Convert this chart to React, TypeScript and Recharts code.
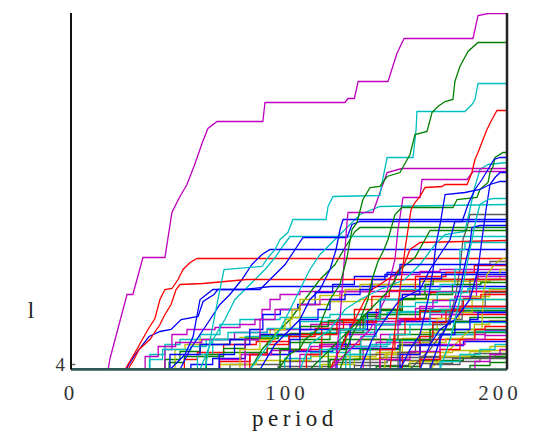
import { Line, LineChart, ReferenceLine, XAxis, YAxis } from "recharts";

type Pt = [number, number];

const BASE = 3.5;
const X_TICKS = [0, 100, 200];
const Y_TICKS = [4];

const B = "#0000ff";
const G = "#008000";
const R = "#ff0000";
const C = "#00bfbf";
const M = "#bf00bf";
const Y = "#bfbf00";
const K = "#595959";

// early / low runs
const blueE40: Pt[] = [[25.2, 3.5], [29.4, 5], [35.8, 6.8], [40.8, 7.3], [45.9, 7.5], [50.5, 8.5], [58.3, 8.8], [60.6, 10.3], [65.6, 11], [67.4, 11.5], [79.4, 11.5], [91.7, 11.8], [200, 11.8]];
const blueE41: Pt[] = [[45.4, 3.5], [52.3, 5], [56, 6.8], [59.2, 10.5], [65.1, 11.5], [86.7, 11.5], [91.3, 12.5], [98.2, 14], [102.8, 15.5], [106.4, 16.7], [126.6, 16.7], [128.9, 18], [132.6, 18.3], [200, 18.3]];
const cyanE42: Pt[] = [[31.7, 3.5], [36.2, 5], [43.1, 6], [50, 6.5], [59.2, 7], [68.3, 8], [77.5, 8.5], [95.9, 8.7], [118.8, 9], [150.9, 9.3], [200, 9.5]];
const greenE43: Pt[] = [[36.2, 3.5], [43.1, 4.5], [50, 5.3], [59.2, 6], [72.9, 6.5], [86.7, 6.9], [100.5, 7.1], [123.4, 7.5], [200, 7.7]];
const magentaE44: Pt[] = [[38.5, 3.5], [43.1, 5.5], [46.3, 7], [53.2, 7.5], [66.1, 7.7], [77.5, 8], [84.4, 8.5], [87.6, 9.5], [91.3, 10.5], [95.9, 11], [105, 11.3], [200, 11.3]];
const yellowE45: Pt[] = [[43.1, 3.5], [47.7, 5.5], [52.3, 6], [59.2, 6.5], [77.5, 6.7], [91.3, 7.5], [100.5, 8.7], [105, 10], [118.8, 10.3], [132.6, 10.5], [200, 10.5]];
const redE46: Pt[] = [[59.2, 3.5], [68.3, 4.3], [82.1, 5], [95.9, 5.5], [114.2, 6], [132.6, 6.5], [200, 6.7]];
const grayE47: Pt[] = [[50, 3.5], [72.9, 4], [95.9, 4.3], [118.8, 4.5], [141.7, 4.7], [200, 4.9]];
const cyanE60: Pt[] = [[33, 3.5], [36, 4.5], [42, 5.5], [55, 5.8], [62, 6.5], [80, 6.8], [110, 7.2], [140, 8], [170, 8.2], [200, 8.3]];
const greenE61: Pt[] = [[40, 3.5], [45, 4.2], [52, 4.8], [70, 5.2], [90, 5.6], [100, 6.2], [125, 6.5], [150, 7], [175, 7.2], [200, 7.3]];
const magentaE62: Pt[] = [[30, 3.5], [34, 4.8], [40, 5.8], [48, 6.2], [60, 6.5], [75, 7.2], [90, 7.5], [110, 8], [135, 8.3], [160, 9.8], [200, 10]];
const blueE63: Pt[] = [[48, 3.5], [55, 4], [65, 4.6], [80, 5], [100, 5.3], [120, 5.6], [150, 5.9], [180, 6.3], [200, 6.4]];
const redE64: Pt[] = [[45, 3.5], [52, 4.5], [58, 5.2], [70, 6], [85, 6.3], [100, 7], [115, 8.2], [140, 8.6], [170, 9], [200, 9]];
const cyanE65: Pt[] = [[52, 3.5], [58, 5], [65, 6.5], [72, 7.2], [90, 7.6], [105, 8.3], [125, 8.5], [145, 9.2], [175, 9.6], [200, 9.7]];
const yellowE66: Pt[] = [[58, 3.5], [68, 4], [85, 4.4], [110, 4.8], [140, 5.2], [175, 5.4], [200, 5.5]];
const grayE67: Pt[] = [[70, 3.5], [95, 3.8], [120, 4.2], [145, 4.4], [160, 4.8], [185, 5.1], [200, 5.2]];
const greenE68: Pt[] = [[56, 3.5], [62, 5], [70, 5.6], [80, 6.6], [95, 7], [105, 7.8], [118, 8.4], [135, 9], [160, 9.4], [200, 9.6]];
const magentaE69: Pt[] = [[62, 3.5], [68, 4.5], [78, 5], [92, 5.4], [110, 5.8], [140, 6.2], [165, 7], [190, 7.4], [200, 7.5]];
const blueE70: Pt[] = [[64, 3.5], [68, 5], [75, 6], [82, 7.5], [88, 9], [96, 9.5], [104, 10], [112, 11.2], [120, 12], [130, 12.8], [145, 13.2], [200, 13.4]];
const redE71: Pt[] = [[75, 3.5], [82, 5], [90, 6], [100, 6.8], [112, 7.6], [125, 8.4], [140, 9.5], [152, 11], [165, 11.2], [180, 11.3], [200, 11.4]];
const cyanE72: Pt[] = [[90, 3.5], [98, 4.6], [110, 5.2], [128, 5.8], [145, 6.4], [165, 7], [185, 7.3], [200, 7.4]];
const yellowE73: Pt[] = [[100, 3.5], [115, 4], [130, 4.6], [145, 5.2], [160, 6.2], [172, 6.6], [185, 8], [192, 8.4], [200, 8.5]];
const grayE74: Pt[] = [[110, 3.5], [130, 3.9], [155, 4.1], [175, 4.6], [200, 4.7]];
const greenE75: Pt[] = [[120, 3.5], [140, 3.8], [160, 4.4], [180, 4.8], [200, 5]];
const blue32: Pt[] = [[36.2, 3.5], [45.4, 5], [59.2, 6], [72.9, 6.5], [86.7, 7], [105, 7.5], [128, 8], [150.9, 8.3], [200, 8.5]];
const redA: Pt[] = [[24.8, 3.5], [29.4, 5.2], [35.3, 7.5], [38.5, 8.6], [40.8, 10.5], [43.1, 11.5], [46.3, 11.6], [49.1, 12.5], [51.4, 13.5], [54.6, 14.2], [57.8, 14.6], [200, 14.6]];
const redB: Pt[] = [[26.1, 3.5], [28.9, 4.5], [31.2, 5.5], [36.2, 6.5], [40.8, 8], [43.1, 9], [45.9, 10], [48.2, 11.5], [50, 12], [60.6, 12.1], [80.7, 12.5], [200, 12.5]];
const blue20: Pt[] = [[50, 3.5], [54.6, 5.5], [59.2, 7], [63.8, 8.5], [68.3, 10], [72.9, 11], [78.4, 12.5], [83, 14], [87.6, 15], [91.3, 15.5], [200, 15.5]];
const cyan17: Pt[] = [[59.2, 3.5], [63.8, 6], [70.6, 8.5], [75.2, 10.5], [79.8, 11.5], [84.4, 12.5], [89, 13.5], [93.6, 14.7], [97.7, 16], [100.5, 16.8], [200, 16.8]];
const yellow54: Pt[] = [[68.3, 3.5], [77.5, 5.5], [86.7, 6.5], [93.6, 7.5], [98.2, 8.5], [101.4, 9.5], [105, 10.5], [114.2, 10.9], [125.7, 11.5], [132.6, 12], [160.1, 12.3], [192.2, 12.5], [196.8, 13.5], [200, 13.7]];
const magenta24: Pt[] = [[72.9, 3.5], [79.8, 6.5], [86.7, 8.5], [93.6, 9.5], [105, 10], [114.2, 10.5], [123.4, 11.3], [137.2, 12], [148.6, 13], [160.1, 13.3], [169.3, 13.5], [200, 13.6]];
const green14: Pt[] = [[82.1, 3.5], [87.6, 5.5], [93.6, 7], [100.5, 8.5], [107.3, 10.5], [114.2, 12.5], [121.1, 14], [125.7, 15.7], [130.3, 17.3], [132.6, 17.7], [200, 17.7]];
const cyan48: Pt[] = [[82.1, 3.5], [89, 5.5], [95.9, 7.5], [100.5, 9.5], [105, 11.5], [109.6, 13.5], [114.2, 15], [118.8, 16], [125.7, 17.5], [132.6, 19], [141.7, 19.8], [200, 20]];
const blue13: Pt[] = [[86.7, 3.5], [93.6, 6], [100.5, 7.5], [105, 8.5], [109.6, 10.5], [114.2, 11.5], [118.8, 13.5], [121.6, 15.5], [123.4, 17.5], [124.8, 18.5], [200, 18.5]];
const green25: Pt[] = [[86.7, 3.5], [95.9, 5.5], [105, 6.5], [118.8, 7.5], [132.6, 8.5], [141.7, 9.5], [150.9, 10.5], [157.8, 11], [162.4, 12], [166.1, 12.5], [200, 12.6]];
const blue23: Pt[] = [[95.9, 3.5], [100.5, 6.5], [105, 8.5], [113.3, 9.5], [118.8, 10.5], [125.7, 11], [132.6, 11.5], [138.1, 12.5], [144, 13], [150.9, 14], [200, 14.2]];
const magenta29: Pt[] = [[95.9, 3.5], [105, 5], [114.2, 6], [125.7, 7], [139.4, 8], [150.9, 8.5], [164.7, 9], [178.4, 9.2], [200, 9.3]];
const green31: Pt[] = [[105, 3.5], [118.8, 4.5], [132.6, 5.5], [150.9, 6.5], [164.7, 7.5], [176.1, 8.3], [183, 8.7], [200, 8.8]];
const cyan7: Pt[] = [[105, 3.5], [109.6, 6], [118.8, 7.5], [125.7, 9.5], [132.6, 10.5], [141.7, 11.5], [153.2, 12.5], [160.1, 14], [167, 16], [171.6, 17], [180.7, 17.3], [183, 19.5], [184.9, 21.5], [187.6, 23.5], [191.3, 24], [200, 24.2]];
const cyan18: Pt[] = [[105, 3.5], [114.2, 5.5], [123.4, 7.5], [134.9, 8.5], [141.7, 10.5], [150.9, 11.5], [169.3, 12], [176.1, 13.5], [178.4, 15.5], [180.7, 16.2], [200, 16.4]];
const green15: Pt[] = [[109.6, 3.5], [118.8, 5.5], [128, 7.5], [137.2, 9.5], [146.3, 11.5], [150.9, 13.5], [157.8, 14.7], [162.4, 16.5], [164.7, 17.4], [200, 17.4]];
const cyan27: Pt[] = [[118.8, 3.5], [128, 5], [137.2, 6], [146.3, 7], [155.5, 8], [164.7, 9.5], [173.9, 10.5], [200, 10.7]];
const red51: Pt[] = [[118.8, 3.5], [125.7, 6.5], [130.3, 8.5], [134.9, 10.5], [138.1, 11.5], [141.7, 12], [148.6, 13], [153.2, 14.2], [155.5, 15.5], [160.1, 16.2], [200, 16.4]];
const magenta2: Pt[] = [[118.8, 3.5], [128, 5.5], [137.2, 7.5], [144, 10.5], [148.6, 14.5], [150, 17.5], [151.8, 20], [152.3, 20.7], [160.1, 20.7], [161, 22.5], [181.7, 22.5], [184.4, 23.3], [200, 23.3]];
const magentaH: Pt[] = [[121.1, 3.5], [123.4, 8.5], [125.7, 15.5], [126.6, 18.2], [127.1, 19.2], [138.5, 19.2], [142.7, 21.8], [145, 23.2], [151.8, 23.6], [200, 23.6]];
const green5: Pt[] = [[123.4, 3.5], [128, 6.5], [132.6, 8.5], [136.2, 10.5], [138.1, 12.5], [140.8, 14.3], [143.6, 15.5], [145.4, 16.5], [148.6, 19], [151.8, 19.7], [175.2, 19.7], [177.1, 20.5], [186.2, 20.7], [187.6, 21.5], [191.3, 22.2], [192.2, 23.2], [193.6, 23.8], [194.5, 24.7], [198.2, 25.2], [200, 25.2]];
const magenta34: Pt[] = [[128, 3.5], [141.7, 4.5], [155.5, 5.3], [169.3, 6], [180.7, 6.5], [189.9, 6.9], [200, 7]];
const gray52: Pt[] = [[128, 3.5], [137.2, 5], [150.9, 6], [164.7, 7.5], [176.1, 8.5], [179.4, 10.5], [183, 12.5], [186.7, 14], [192.2, 14.3], [200, 14.3]];
const blue6: Pt[] = [[132.6, 3.5], [138.1, 6.5], [144, 8.5], [150.9, 10.5], [160.1, 11.5], [164.7, 13.5], [169.3, 15], [173.9, 16.5], [176.1, 18.3], [179.4, 18.3], [182.1, 20], [185.3, 21.5], [188.5, 22.5], [191.3, 23.5], [194, 24.5], [196.8, 24.7], [200, 24.7]];
const red28: Pt[] = [[132.6, 3.5], [141.7, 5.5], [148.6, 7], [153.2, 8.5], [160.1, 9.3], [169.3, 9.5], [178.4, 9.8], [200, 10]];
const blue30: Pt[] = [[141.7, 3.5], [150.9, 5], [160.1, 6], [169.3, 7], [176.1, 7.5], [183, 8.5], [186.7, 9.2], [200, 9.3]];
const yellow36: Pt[] = [[141.7, 3.5], [155.5, 4.3], [169.3, 4.8], [183, 5.3], [192.2, 5.8], [200, 6]];
const blue11: Pt[] = [[150.9, 3.5], [155.5, 5.5], [160.1, 7], [163.8, 10.5], [166.1, 13.5], [167.4, 16], [169.3, 18], [171.6, 21], [180.7, 21.2], [187.6, 21.5], [192.2, 22], [196.8, 22.3], [200, 22.3]];
const red33: Pt[] = [[150.9, 3.5], [160.1, 4.5], [169.3, 5.5], [178.4, 6.5], [185.3, 7.5], [189.9, 7.8], [200, 7.9]];
const gray38: Pt[] = [[150.9, 3.5], [164.7, 4], [178.4, 4.3], [187.6, 4.7], [194.5, 5], [200, 5]];
const gray53: Pt[] = [[155.5, 3.5], [164.7, 5.5], [171.6, 7.5], [176.1, 10.5], [178.4, 13.5], [179.8, 16.5], [181.7, 17.7], [183, 19], [200, 19]];
const blue10: Pt[] = [[160.1, 3.5], [164.7, 6], [169.3, 7.5], [176.1, 8.5], [183, 10.5], [186.7, 13.5], [188.5, 16.5], [190.4, 19.5], [192.2, 22], [194.5, 22.7], [196.8, 23.2], [200, 23.2]];
const cyan35: Pt[] = [[160.1, 3.5], [169.3, 4.3], [178.4, 5], [187.6, 5.5], [194.5, 6], [200, 6.1]];
const blue16: Pt[] = [[164.7, 3.5], [169.3, 6.5], [173.9, 8.5], [178.4, 11.5], [180.7, 14], [183, 16], [183.9, 17.7], [187.6, 17.9], [200, 17.9]];
const yellow22: Pt[] = [[164.7, 3.5], [171.6, 5], [178.4, 6.5], [183, 7.5], [188.5, 7.5], [189, 11], [190.8, 13], [193.6, 13.8], [196.8, 14.5], [200, 14.7]];
const cyan12: Pt[] = [[169.3, 3.5], [173.9, 6.5], [178.4, 10.5], [183, 15.5], [185.8, 18.5], [187.6, 20], [191.3, 20.5], [193.6, 20.6], [200, 20.6]];
const green39: Pt[] = [[169.3, 3.5], [183, 3.9], [192.2, 4.2], [200, 4.3]];
const magenta37: Pt[] = [[178.4, 3.5], [185.3, 4.3], [192.2, 5], [196.8, 5.5], [200, 5.5]];

// middle band, later periods
const redM1: Pt[] = [[100, 3.5], [108, 5], [115, 7], [122, 8.5], [130, 9.5], [138, 10.8], [146, 11.4], [158, 12.8], [172, 13.2], [185, 13.9], [200, 14]];
const greenM2: Pt[] = [[112, 3.5], [118, 5.5], [126, 7.2], [134, 8.8], [142, 9.4], [152, 10.6], [163, 11], [175, 12], [188, 12.2], [200, 12.3]];
const cyanM3: Pt[] = [[120, 3.5], [126, 5], [133, 6.8], [140, 8], [150, 9.8], [158, 10.2], [168, 11.2], [182, 11.6], [200, 11.7]];
const magentaM4: Pt[] = [[128, 3.5], [134, 5.5], [142, 7], [150, 8.4], [158, 9.6], [166, 10.4], [176, 10.8], [186, 12.8], [200, 13]];
const yellowM5: Pt[] = [[136, 3.5], [144, 5], [152, 6.6], [160, 7.2], [168, 8.6], [178, 9.2], [184, 10.8], [192, 11.5], [200, 11.6]];
const grayM6: Pt[] = [[140, 3.5], [150, 5.2], [158, 6.4], [166, 8], [174, 9.3], [180, 9.8], [190, 11.2], [200, 11.3]];
const blueM7: Pt[] = [[115, 3.5], [122, 6], [128, 7.5], [136, 9.2], [142, 10.5], [152, 11], [160, 12.6], [170, 13], [200, 13.1]];
const redM8: Pt[] = [[145, 3.5], [152, 5], [160, 6.8], [166, 8.2], [172, 9.4], [180, 10.6], [188, 11], [200, 11.1]];

// the tall runs
const redTop: Pt[] = [[146.3, 3.5], [148.6, 7.5], [150.9, 11.5], [153.2, 15.5], [156, 19.5], [157.8, 20.2], [160.1, 20.8], [162.4, 21.7], [170.2, 21.8], [171.6, 22], [181.7, 22], [183.9, 23.2], [185.3, 24.5], [186.7, 25.2], [189, 26.5], [190.8, 27.5], [193.1, 28.5], [195.4, 29.4], [200, 29.4]];
const cyanTop: Pt[] = [[61.5, 3.5], [64.7, 7.5], [67.4, 10.5], [70.2, 13.5], [87.6, 13.8], [90.4, 14.7], [93.6, 15.5], [95.9, 16.5], [99.5, 17.2], [101.8, 18.5], [117, 18.5], [117.9, 19.8], [120.2, 20.8], [141.7, 20.9], [142.7, 22.2], [145, 24.7], [156.9, 24.7], [158.3, 27.5], [158.7, 29.3], [180.7, 29.3], [183.9, 30], [185.3, 30.5], [186.7, 32.1], [200, 32.1]];
const greenTop: Pt[] = [[95, 3.5], [100, 5], [105, 5.6], [107.3, 6.5], [113.3, 7.5], [118.8, 10.5], [123.4, 12], [126.6, 14.7], [128.9, 17.5], [131.2, 18.2], [133.9, 20.5], [137.2, 21.7], [141.7, 21.8], [145, 22.8], [150.9, 23.2], [155.5, 25], [157.8, 27], [163.3, 27.3], [165.6, 29.2], [168.3, 29.8], [171.6, 30.3], [175.2, 30.5], [176.1, 32.3], [178.4, 33.8], [182.1, 35.3], [186.7, 36.2], [200, 36.2]];
const magentaTop: Pt[] = [[17, 3.5], [17.9, 4.6], [25.7, 11], [28.4, 11], [33, 14.7], [43.1, 14.7], [46.3, 19.2], [49.5, 20.6], [53.2, 22], [56.9, 24.1], [60.1, 26.1], [62.8, 27.6], [67, 28.3], [88, 28.3], [89, 30.2], [125.7, 30.2], [127, 30.6], [130, 30.6], [131.7, 32.3], [145.4, 32.3], [149.5, 35.1], [152.8, 36.6], [184.4, 36.6], [186.7, 38.9], [191.3, 39.1], [200, 39.1]];

type Shape = "linear" | "stepAfter";
const L: Shape = "linear";
const S: Shape = "stepAfter";

const SERIES: { name: string; color: string; shape: Shape; pts: Pt[] }[] = [
  { name: "blueE40", color: B, shape: L, pts: blueE40 },
  { name: "greenE43", color: G, shape: S, pts: greenE43 },
  { name: "redE46", color: R, shape: S, pts: redE46 },
  { name: "cyanE42", color: C, shape: S, pts: cyanE42 },
  { name: "magentaE44", color: M, shape: S, pts: magentaE44 },
  { name: "yellowE45", color: Y, shape: S, pts: yellowE45 },
  { name: "grayE47", color: K, shape: S, pts: grayE47 },
  { name: "cyanE60", color: C, shape: S, pts: cyanE60 },
  { name: "greenE61", color: G, shape: S, pts: greenE61 },
  { name: "magentaE62", color: M, shape: S, pts: magentaE62 },
  { name: "blueE63", color: B, shape: S, pts: blueE63 },
  { name: "redE64", color: R, shape: S, pts: redE64 },
  { name: "cyanE65", color: C, shape: S, pts: cyanE65 },
  { name: "yellowE66", color: Y, shape: S, pts: yellowE66 },
  { name: "grayE67", color: K, shape: S, pts: grayE67 },
  { name: "greenE68", color: G, shape: S, pts: greenE68 },
  { name: "magentaE69", color: M, shape: S, pts: magentaE69 },
  { name: "blueE70", color: B, shape: S, pts: blueE70 },
  { name: "redE71", color: R, shape: S, pts: redE71 },
  { name: "cyanE72", color: C, shape: S, pts: cyanE72 },
  { name: "yellowE73", color: Y, shape: S, pts: yellowE73 },
  { name: "grayE74", color: K, shape: S, pts: grayE74 },
  { name: "greenE75", color: G, shape: S, pts: greenE75 },
  { name: "blue32", color: B, shape: S, pts: blue32 },
  { name: "green14", color: G, shape: L, pts: green14 },
  { name: "redA", color: R, shape: L, pts: redA },
  { name: "cyan17", color: C, shape: L, pts: cyan17 },
  { name: "magenta24", color: M, shape: S, pts: magenta24 },
  { name: "yellow54", color: Y, shape: S, pts: yellow54 },
  { name: "gray52", color: K, shape: S, pts: gray52 },
  { name: "blue20", color: B, shape: L, pts: blue20 },
  { name: "green25", color: G, shape: S, pts: green25 },
  { name: "redB", color: R, shape: L, pts: redB },
  { name: "cyan48", color: C, shape: L, pts: cyan48 },
  { name: "magenta29", color: M, shape: S, pts: magenta29 },
  { name: "yellow36", color: Y, shape: S, pts: yellow36 },
  { name: "gray53", color: K, shape: L, pts: gray53 },
  { name: "redM1", color: R, shape: S, pts: redM1 },
  { name: "greenM2", color: G, shape: S, pts: greenM2 },
  { name: "cyanM3", color: C, shape: S, pts: cyanM3 },
  { name: "magentaM4", color: M, shape: S, pts: magentaM4 },
  { name: "yellowM5", color: Y, shape: S, pts: yellowM5 },
  { name: "grayM6", color: K, shape: S, pts: grayM6 },
  { name: "blueM7", color: B, shape: S, pts: blueM7 },
  { name: "redM8", color: R, shape: S, pts: redM8 },
  { name: "blueE41", color: B, shape: L, pts: blueE41 },
  { name: "green31", color: G, shape: S, pts: green31 },
  { name: "red51", color: R, shape: L, pts: red51 },
  { name: "cyan7", color: C, shape: L, pts: cyan7 },
  { name: "magenta2", color: M, shape: L, pts: magenta2 },
  { name: "yellow22", color: Y, shape: L, pts: yellow22 },
  { name: "gray38", color: K, shape: S, pts: gray38 },
  { name: "blue13", color: B, shape: L, pts: blue13 },
  { name: "green15", color: G, shape: L, pts: green15 },
  { name: "red28", color: R, shape: S, pts: red28 },
  { name: "cyan18", color: C, shape: S, pts: cyan18 },
  { name: "magentaH", color: M, shape: L, pts: magentaH },
  { name: "blue23", color: B, shape: S, pts: blue23 },
  { name: "green5", color: G, shape: L, pts: green5 },
  { name: "red33", color: R, shape: S, pts: red33 },
  { name: "cyan27", color: C, shape: S, pts: cyan27 },
  { name: "magenta34", color: M, shape: S, pts: magenta34 },
  { name: "blue6", color: B, shape: L, pts: blue6 },
  { name: "green39", color: G, shape: S, pts: green39 },
  { name: "cyan35", color: C, shape: S, pts: cyan35 },
  { name: "magenta37", color: M, shape: S, pts: magenta37 },
  { name: "blue30", color: B, shape: S, pts: blue30 },
  { name: "blue11", color: B, shape: L, pts: blue11 },
  { name: "blue10", color: B, shape: L, pts: blue10 },
  { name: "blue16", color: B, shape: L, pts: blue16 },
  { name: "cyan12", color: C, shape: L, pts: cyan12 },
  { name: "redTop", color: R, shape: L, pts: redTop },
  { name: "cyanTop", color: C, shape: L, pts: cyanTop },
  { name: "greenTop", color: G, shape: L, pts: greenTop },
  { name: "magentaTop", color: M, shape: L, pts: magentaTop },
];

const toRows = (pts: Pt[]) =>
  [[0, BASE] as Pt, ...pts].map(([x, y]) => ({ x, y }));

const serif = "'Liberation Serif', 'DejaVu Serif', serif";

function XTick({ x, y, payload }: any) {
  const shift = payload.value === 200 ? -7 : payload.value === 0 ? 0 : -2;
  return (
    <text
      x={x + shift}
      y={y}
      dy="0.71em"
      textAnchor="middle"
      fontFamily={serif}
      fontSize={21}
      letterSpacing={4}
      fill="#333"
    >
      {payload.value}
    </text>
  );
}

export default function App() {
  return (
    <div style={{ position: "absolute", left: 0, top: 0, width: 535, height: 436, background: "#fff" }}>
      <LineChart
        width={535}
        height={436}
        margin={{ top: 13, right: 28, bottom: 0, left: 0 }}
      >
        <XAxis
          type="number"
          dataKey="x"
          domain={[0, 200]}
          ticks={X_TICKS}
          axisLine={false}
          tickLine={false}
          tickMargin={10}
          height={66.5}
          tick={<XTick />}
          allowDataOverflow
        />
        <YAxis
          type="number"
          dataKey="y"
          domain={[BASE, 39.15]}
          ticks={Y_TICKS}
          width={71}
          tickLine={false}
          tickMargin={0}
          axisLine={{ stroke: "#111", strokeWidth: 2 }}
          tick={{ fontSize: 19, fill: "#333", fontFamily: serif }}
          allowDataOverflow
        />
        {SERIES.map((s) => (
          <Line
            key={s.name}
            data={toRows(s.pts)}
            dataKey="y"
            type={s.shape}
            stroke={s.color}
            strokeWidth={1.3}
            dot={false}
            activeDot={false}
            isAnimationActive={false}
          />
        ))}
        <ReferenceLine y={BASE} stroke="#2d5a4c" strokeWidth={2.5} ifOverflow="visible" />
        <ReferenceLine
          segment={[{ x: 0, y: 4 }, { x: 2, y: 4 }]}
          stroke="#666"
          strokeWidth={1.5}
          ifOverflow="visible"
        />
        <ReferenceLine x={200} stroke="#222" strokeWidth={2.5} ifOverflow="visible" />
      </LineChart>
      <div
        style={{
          position: "absolute",
          left: 195,
          top: 407,
          width: 200,
          textAlign: "center",
          fontFamily: serif,
          fontSize: 23,
          lineHeight: "23px",
          letterSpacing: 4.5,
          color: "#222",
        }}
      >
        period
      </div>
      <div
        style={{
          position: "absolute",
          left: 21,
          top: 299,
          width: 20,
          textAlign: "center",
          fontFamily: serif,
          fontSize: 23,
          lineHeight: "23px",
          color: "#222",
        }}
      >
        l
      </div>
    </div>
  );
}
